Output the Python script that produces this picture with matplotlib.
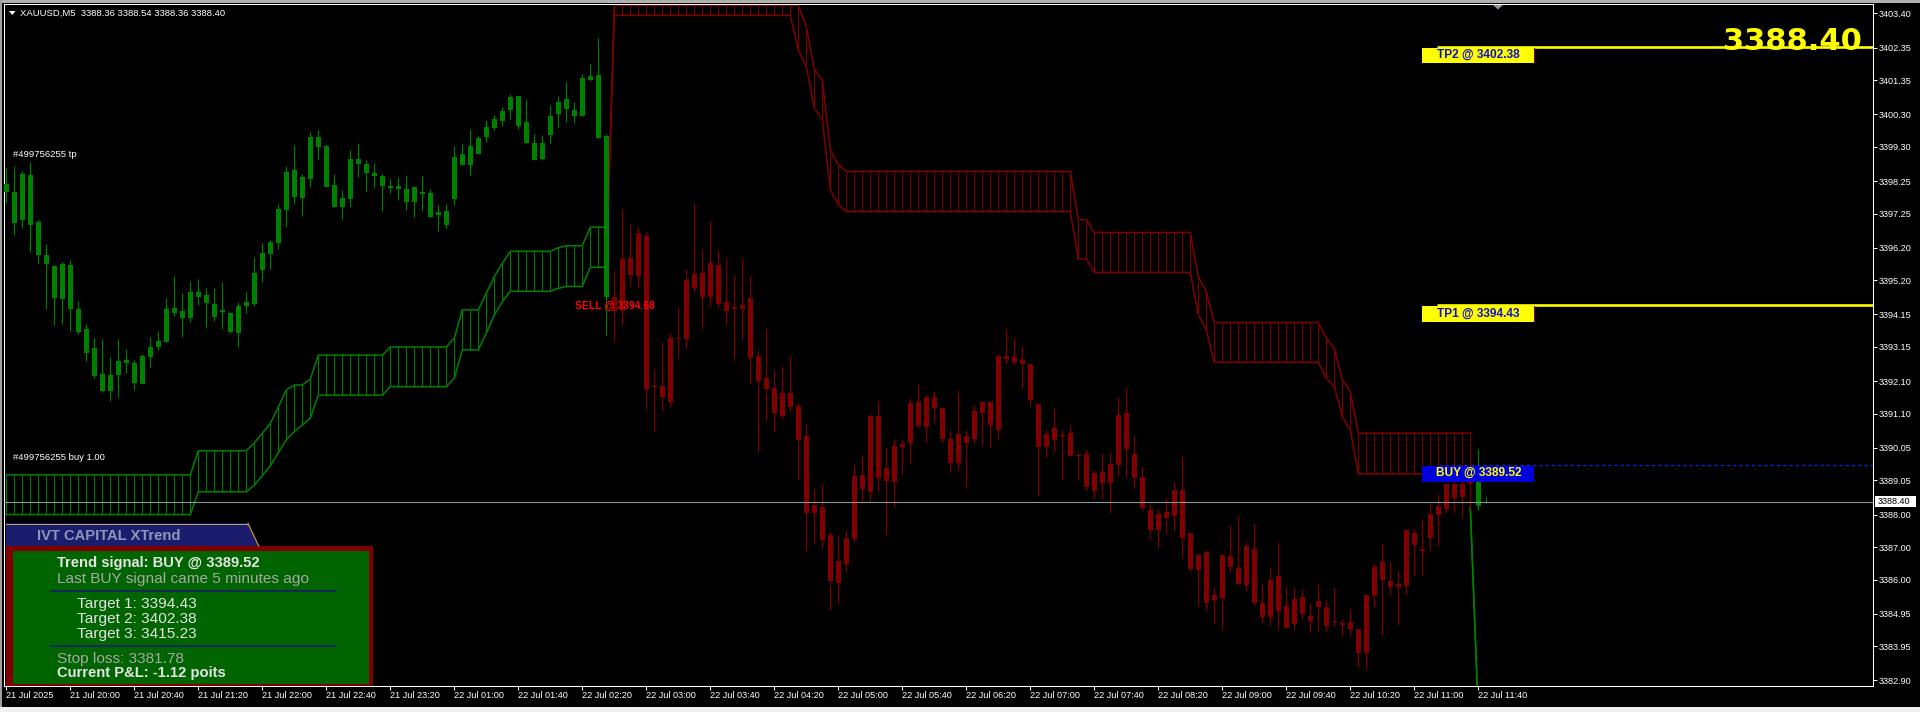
import numpy as np
import matplotlib.pyplot as plt
from matplotlib.patches import Rectangle, Polygon
from matplotlib.transforms import blended_transform_factory

plt.rcParams['font.family'] = ['Liberation Sans', 'DejaVu Sans']

GREEN = '#008000'
RED = '#800000'

symbol = "XAUUSD,M5"

# OHLC of the M5 bars, oldest first (21 Jul 19:20 -> 22 Jul 11:45)
opens = [3398.16, 3397.91, 3397.06, 3398.43, 3396.99, 3395.97, 3395.64, 3394.63, 3395.67, 3394.32,
         3393.70, 3393.11, 3392.31, 3391.80, 3392.29, 3392.75, 3392.65, 3392.02, 3392.85, 3393.16,
         3393.31, 3394.36, 3394.25, 3394.05, 3394.83, 3394.74, 3394.47, 3394.23, 3394.18, 3393.59,
         3394.42, 3394.47, 3395.50, 3396.01, 3396.36, 3397.36, 3398.59, 3397.74, 3398.32, 3399.61,
         3399.34, 3398.13, 3397.46, 3397.70, 3398.93, 3398.78, 3398.50, 3398.41, 3398.10, 3398.01,
         3398.01, 3397.62, 3397.92, 3397.87, 3397.19, 3397.33, 3397.70, 3398.73, 3398.73, 3399.09,
         3399.59, 3399.89, 3400.10, 3400.43, 3400.86, 3400.07, 3399.42, 3398.93, 3399.67, 3400.30,
         3400.77, 3400.44, 3400.26, 3401.35, 3401.51, 3399.64, 3394.69, 3394.27, 3395.89, 3395.32,
         3396.57, 3391.92, 3391.94, 3391.46, 3393.42, 3393.38, 3395.38, 3394.67, 3395.72, 3394.47,
         3394.54, 3394.31, 3394.33, 3394.66, 3392.88, 3392.21, 3391.88, 3391.03, 3391.75, 3391.34,
         3390.40, 3388.05, 3388.23, 3387.37, 3385.90, 3386.49, 3387.25, 3389.21, 3388.70, 3391.02,
         3389.03, 3389.01, 3390.07, 3390.20, 3391.45, 3390.70, 3391.60, 3391.27, 3390.32, 3389.58,
         3390.41, 3390.32, 3391.13, 3391.45, 3390.60, 3392.87, 3392.84, 3392.63, 3392.62, 3391.39,
         3390.08, 3390.30, 3390.45, 3390.50, 3389.80, 3389.86, 3388.72, 3389.32, 3388.97, 3389.52,
         3391.11, 3389.86, 3389.15, 3388.13, 3387.52, 3388.07, 3387.95, 3388.75, 3387.43, 3386.29,
         3386.85, 3385.37, 3385.44, 3386.72, 3386.35, 3385.83, 3386.94, 3385.27, 3384.86, 3386.11,
         3385.18, 3384.63, 3385.46, 3384.88, 3385.17, 3385.15, 3384.70, 3384.66, 3384.70, 3384.47,
         3383.73, 3385.51, 3386.53, 3385.97, 3385.78, 3385.81, 3387.42, 3386.93, 3387.29, 3387.99,
         3388.17, 3388.93, 3388.55, 3388.93, 3389.47, 3388.36]
highs = [3398.64, 3398.71, 3398.56, 3398.83, 3397.05, 3396.31, 3395.67, 3395.77, 3395.82, 3394.57,
         3393.87, 3393.41, 3393.39, 3392.83, 3393.39, 3393.08, 3392.75, 3392.93, 3393.46, 3393.64,
         3394.64, 3395.33, 3394.82, 3395.17, 3395.24, 3394.95, 3394.96, 3395.15, 3394.21, 3394.54,
         3394.84, 3395.90, 3396.36, 3396.44, 3397.55, 3398.72, 3399.36, 3398.47, 3399.76, 3399.82,
         3399.36, 3398.47, 3397.96, 3399.21, 3399.41, 3398.90, 3398.80, 3398.47, 3398.31, 3398.37,
         3398.44, 3398.07, 3398.41, 3398.00, 3397.55, 3397.55, 3399.34, 3399.41, 3399.85, 3399.64,
         3400.13, 3400.28, 3400.52, 3400.92, 3400.86, 3400.77, 3399.70, 3399.67, 3400.58, 3400.86,
         3401.30, 3400.67, 3401.55, 3401.85, 3402.63, 3399.70, 3395.52, 3397.40, 3396.92, 3396.83,
         3396.68, 3392.47, 3393.30, 3393.59, 3394.36, 3395.55, 3397.62, 3396.17, 3397.02, 3396.12,
         3395.88, 3395.35, 3395.86, 3395.37, 3393.07, 3393.73, 3392.45, 3392.56, 3392.88, 3391.43,
         3390.80, 3388.82, 3388.94, 3387.45, 3387.37, 3387.52, 3389.55, 3389.82, 3391.09, 3391.49,
         3390.03, 3390.31, 3390.31, 3391.59, 3392.01, 3391.67, 3391.79, 3391.27, 3390.59, 3391.82,
         3390.59, 3391.36, 3391.45, 3391.45, 3392.92, 3393.70, 3393.43, 3393.19, 3392.62, 3391.41,
         3390.61, 3391.28, 3390.59, 3390.74, 3389.93, 3390.00, 3389.33, 3389.88, 3389.91, 3391.64,
         3391.88, 3390.41, 3389.45, 3388.34, 3388.19, 3388.52, 3388.99, 3389.79, 3387.46, 3386.75,
         3386.90, 3385.76, 3386.80, 3387.67, 3387.95, 3387.15, 3387.74, 3385.86, 3386.36, 3387.16,
         3385.81, 3385.76, 3385.70, 3385.27, 3385.86, 3385.39, 3385.76, 3384.80, 3385.09, 3384.47,
         3385.56, 3386.48, 3387.08, 3386.53, 3386.29, 3387.52, 3387.54, 3387.85, 3388.34, 3388.62,
         3388.93, 3389.23, 3389.44, 3389.60, 3390.00, 3388.54]
lows = [3397.56, 3396.59, 3396.81, 3396.08, 3395.72, 3394.33, 3393.82, 3393.87, 3393.65, 3393.54,
        3392.72, 3392.20, 3391.77, 3391.49, 3391.60, 3392.34, 3391.82, 3392.01, 3392.54, 3393.07,
        3393.31, 3394.10, 3393.46, 3393.92, 3394.44, 3393.72, 3393.95, 3393.69, 3393.59, 3393.16,
        3394.18, 3394.41, 3395.16, 3395.56, 3396.15, 3396.85, 3397.55, 3397.18, 3398.08, 3398.93,
        3398.08, 3397.46, 3397.08, 3397.46, 3398.36, 3397.93, 3398.08, 3397.34, 3397.87, 3397.67,
        3397.36, 3397.13, 3397.34, 3397.13, 3396.70, 3396.82, 3397.52, 3398.73, 3398.42, 3399.09,
        3399.46, 3399.82, 3399.95, 3400.16, 3399.84, 3399.41, 3398.91, 3398.90, 3399.39, 3399.90,
        3400.07, 3400.03, 3400.26, 3401.32, 3399.56, 3393.53, 3393.30, 3393.81, 3395.01, 3394.95,
        3391.23, 3390.57, 3391.17, 3391.26, 3392.81, 3393.10, 3394.84, 3393.70, 3394.38, 3394.36,
        3393.84, 3392.73, 3393.36, 3392.00, 3389.89, 3390.88, 3390.55, 3390.94, 3391.18, 3389.06,
        3386.88, 3387.13, 3386.93, 3385.06, 3385.29, 3386.24, 3387.17, 3388.36, 3388.39, 3388.70,
        3387.37, 3388.24, 3389.26, 3389.57, 3390.68, 3390.24, 3390.85, 3390.20, 3389.31, 3389.36,
        3388.82, 3390.20, 3390.13, 3390.05, 3390.29, 3392.64, 3392.64, 3391.85, 3391.31, 3388.58,
        3389.77, 3389.93, 3389.09, 3389.80, 3389.06, 3388.72, 3388.47, 3388.47, 3388.05, 3389.16,
        3389.16, 3388.82, 3388.13, 3387.24, 3386.95, 3387.40, 3387.52, 3386.67, 3386.27, 3385.18,
        3385.04, 3384.65, 3384.45, 3386.21, 3385.83, 3385.66, 3385.21, 3384.67, 3384.57, 3384.45,
        3384.52, 3384.45, 3384.81, 3384.40, 3384.43, 3384.40, 3384.55, 3384.27, 3384.27, 3383.32,
        3383.29, 3385.17, 3384.30, 3385.53, 3384.60, 3385.53, 3386.12, 3386.14, 3386.89, 3387.04,
        3388.04, 3388.04, 3387.88, 3388.14, 3388.14, 3388.36]
closes = [3397.92, 3396.97, 3398.46, 3396.91, 3395.98, 3395.71, 3394.66, 3395.70, 3394.32, 3393.62,
          3392.97, 3392.26, 3391.79, 3392.28, 3392.71, 3392.66, 3392.05, 3392.87, 3393.15, 3393.33,
          3394.31, 3394.20, 3394.05, 3394.84, 3394.69, 3394.51, 3394.08, 3394.28, 3393.62, 3394.41,
          3394.53, 3395.43, 3396.05, 3396.38, 3397.39, 3398.53, 3397.77, 3398.38, 3399.61, 3399.31,
          3398.08, 3397.46, 3397.72, 3398.93, 3398.78, 3398.51, 3398.39, 3398.11, 3398.04, 3398.10,
          3397.59, 3398.07, 3397.86, 3397.13, 3397.29, 3396.90, 3398.99, 3399.07, 3399.33, 3399.58,
          3399.91, 3400.16, 3400.41, 3400.84, 3399.95, 3399.41, 3398.91, 3399.42, 3400.24, 3400.67,
          3400.47, 3400.26, 3401.43, 3401.49, 3399.56, 3394.70, 3394.27, 3395.86, 3395.35, 3396.66,
          3391.85, 3391.96, 3391.60, 3393.44, 3393.38, 3395.21, 3394.95, 3395.43, 3394.67, 3395.68,
          3394.25, 3394.38, 3394.43, 3392.81, 3392.11, 3391.85, 3391.12, 3391.75, 3391.29, 3390.29,
          3388.05, 3388.29, 3387.23, 3385.96, 3386.57, 3387.27, 3389.18, 3388.79, 3391.02, 3389.13,
          3389.42, 3390.10, 3390.18, 3391.42, 3390.72, 3391.60, 3391.28, 3390.32, 3389.58, 3390.47,
          3390.20, 3391.18, 3391.45, 3390.75, 3392.88, 3392.78, 3392.68, 3392.75, 3391.52, 3390.08,
          3390.47, 3390.66, 3390.41, 3389.80, 3389.83, 3388.84, 3389.27, 3388.97, 3389.55, 3391.06,
          3390.01, 3389.13, 3388.20, 3387.52, 3388.01, 3387.89, 3388.75, 3387.28, 3386.32, 3386.75,
          3385.27, 3385.52, 3386.75, 3386.38, 3385.88, 3387.03, 3385.27, 3384.86, 3385.98, 3385.03,
          3384.52, 3385.40, 3384.95, 3384.74, 3385.34, 3384.57, 3384.74, 3384.62, 3384.47, 3383.73,
          3385.53, 3386.38, 3385.99, 3385.78, 3385.88, 3387.52, 3387.06, 3386.88, 3388.02, 3388.26,
          3388.93, 3388.52, 3388.93, 3389.45, 3388.26, 3388.40]
trend = ["up"] * 76 + ["down"] * 108 + ["up"] * 2

# XTrend channel (bars 0-75 up, 75-183 down, 183-185 new up)
green_top = ([3389.22] * 24 + [3389.96] * 7 + [3390.20, 3390.50, 3390.80, 3391.30, 3391.83]
             + [3391.98, 3391.98, 3392.16] + [3392.90] * 9 + [3393.15] * 8 + [3393.42]
             + [3394.29] * 3 + [3394.80, 3395.31, 3395.72] + [3396.09] * 6 + [3396.20]
             + [3396.26] * 3 + [3396.83] * 3)
green_bot = ([3388.00] * 24 + [3388.70] * 7
             + [3388.90, 3389.20, 3389.50, 3389.90, 3390.30, 3390.55, 3390.75, 3390.96]
             + [3391.67] * 9 + [3391.93] * 8 + [3392.19] + [3393.06] * 3
             + [3393.57, 3394.13, 3394.54] + [3394.86] * 6 + [3394.95] + [3395.01] * 3
             + [3395.60] * 3)
red_top = ([3395.50] + [3403.65] * 24 + [3403.00, 3401.67, 3401.36, 3399.21, 3398.75]
           + [3398.54] * 29 + [3397.06] * 2 + [3396.67] * 13 + [3395.31, 3394.85]
           + [3393.90] * 14 + [3393.42, 3393.11, 3392.14, 3391.78] + [3390.50] * 15)
red_bot = ([3395.50] + [3403.34] * 23 + [3402.28, 3401.77, 3400.49, 3400.13, 3397.98, 3397.52]
           + [3397.31] * 29 + [3395.85] * 2 + [3395.44] * 13 + [3394.14, 3393.68]
           + [3392.68] * 14 + [3392.19, 3391.93, 3391.01, 3390.60] + [3389.25] * 15)
new_top = [3388.24, 3381.90, 3381.90]
new_bot = [3388.24, 3381.78, 3381.78]

sell_price = 3394.68
buy_price = 3389.52
targets = [3394.43, 3402.38, 3415.23]
stop_loss = 3381.78
pnl = -1.12

time_labels = ["21 Jul 2025", "21 Jul 20:00", "21 Jul 20:40", "21 Jul 21:20", "21 Jul 22:00",
               "21 Jul 22:40", "21 Jul 23:20", "22 Jul 01:00", "22 Jul 01:40", "22 Jul 02:20",
               "22 Jul 03:00", "22 Jul 03:40", "22 Jul 04:20", "22 Jul 05:00", "22 Jul 05:40",
               "22 Jul 06:20", "22 Jul 07:00", "22 Jul 07:40", "22 Jul 08:20", "22 Jul 09:00",
               "22 Jul 09:40", "22 Jul 10:20", "22 Jul 11:00", "22 Jul 11:40"]
price_ticks = [3403.40, 3402.35, 3401.35, 3400.30, 3399.30, 3398.25, 3397.25, 3396.20, 3395.20,
               3394.15, 3393.15, 3392.10, 3391.10, 3390.05, 3389.05, 3388.00, 3387.00, 3386.00,
               3384.95, 3383.95, 3382.90]

# ---- layout (pixels) ----
W, H = 1920, 712
L, R, T, B = 4, 1873, 4, 686
X0, XSTEP = 6.3, 8.0
YMIN, YMAX = 3382.73, 3403.69

fig = plt.figure(figsize=(W / 100, H / 100), dpi=100, facecolor='black')
ax = fig.add_axes([L / W, 1 - B / H, (R - L) / W, (B - T) / H])
ax.set_facecolor('black')
ax.set_xlim((L - X0) / XSTEP, (R - X0) / XSTEP)
ax.set_ylim(YMIN, YMAX)


def dy(n):
    return n * (YMAX - YMIN) / (B - T)


def dx(n):
    return n / XSTEP


o = np.array(opens)
h = np.array(highs)
l = np.array(lows)
c = np.array(closes)
bars = np.arange(len(o))
cols = np.where(np.array(trend) == "up", GREEN, RED)

# channel bands with hatching
gi = np.arange(len(green_top))
ri = np.arange(75, 75 + len(red_top))
ni = np.arange(183, 183 + len(new_top))
for idx, top, bot, col in [(gi, green_top, green_bot, GREEN), (ri, red_top, red_bot, RED),
                           (ni, new_top, new_bot, GREEN)]:
    ax.plot(idx, top, color=col, lw=1.1, zorder=2)
    ax.plot(idx, bot, color=col, lw=1.1, zorder=2)
    ax.vlines(idx, bot, top, colors=col, lw=0.7, zorder=2)

# candles
ax.vlines(bars, l, h, colors=cols, lw=0.8, zorder=3)
body_lo = np.minimum(o, c)
body_h = np.maximum(np.abs(c - o), dy(1))
ax.bar(bars, body_h, bottom=body_lo, width=5 / 8, color=cols, linewidth=0, zorder=3)

# current price line
ax.axhline(c[-1], color='#8f959d', lw=0.8, zorder=4)

# signal / target labels
lab_x = 178.85
for name, lvl in [("TP1", targets[0]), ("TP2", targets[1])]:
    ax.hlines(lvl, lab_x, ax.get_xlim()[1], color='#ffff00', lw=1.9, zorder=4)
    ax.add_patch(Rectangle((lab_x - dx(15), lvl - dy(16.5)), dx(112), dy(15.5),
                           facecolor='#ffff00', edgecolor='none', zorder=5))
    ax.add_patch(Rectangle((lab_x + dx(97), lvl - dy(16.5)), dx(1), dy(15.5),
                           facecolor='#800000', edgecolor='none', zorder=5))
    ax.text(lab_x, lvl - dy(11.6), f"{name} @ {lvl:.2f}", color='#1010d0', fontsize=8.6,
            fontweight='bold', ha='left', va='baseline', zorder=6)

ax.hlines(buy_price, lab_x + dx(1.5), ax.get_xlim()[1], color='#1c1cf0', lw=0.9,
          linestyle=(0, (2.5, 2.5)), zorder=4)
ax.add_patch(Rectangle((lab_x - dx(15), buy_price - dy(16.5)), dx(112), dy(15.5),
                       facecolor='#0000dc', edgecolor='none', zorder=5))
ax.text(lab_x - dx(1.5), buy_price - dy(11), f"BUY @ {buy_price:.2f}", color='#ffff00',
        fontsize=8.6, fontweight='bold', ha='left', va='baseline', zorder=6)
ax.text(71.1, sell_price - dy(11.7), f"SELL @ {sell_price:.2f}", color='#ff0000',
        fontsize=7.5, fontweight='bold', ha='left', va='baseline', zorder=6)

# axes styling
for s in ax.spines.values():
    s.set_color('white')
    s.set_linewidth(0.75)
ax.yaxis.tick_right()
ax.set_yticks(price_ticks, labels=[f"{v:.2f}" for v in price_ticks])
ax.set_xticks(np.arange(0, 8 * len(time_labels), 8), labels=time_labels)
for t in ax.get_xticklabels():
    t.set_horizontalalignment('left')
ax.tick_params(axis='y', direction='out', length=2.9, width=0.7, colors='white',
               labelsize=6.6, pad=1.5)
ax.tick_params(axis='x', direction='out', length=2.9, width=0.7, colors='white',
               labelsize=6.6, pad=0.6)

blend = blended_transform_factory(ax.transAxes, ax.transData)
axw = R - L
ax.add_patch(Rectangle((1 + 2 / axw, c[-1] - dy(5.2)), 41 / axw, dy(10.5), transform=blend,
                       facecolor='white', edgecolor='none', clip_on=False, zorder=7))
ax.text(1 + 5 / axw, c[-1], f"{c[-1]:.2f}", transform=blend, color='black', fontsize=6.6,
        ha='left', va='center', clip_on=False, zorder=8)

# ---- overlay in pixel coordinates: window chrome and info panel ----
ov = fig.add_axes([0, 0, 1, 1], zorder=5)
ov.set_xlim(0, W)
ov.set_ylim(H, 0)
ov.axis('off')
ov.patch.set_alpha(0)

ov.add_patch(Rectangle((0, 0), W, 2.5, facecolor='#b0b0b0', edgecolor='none'))
ov.add_patch(Rectangle((0, 0), 2, H, facecolor='#a0a0a0', edgecolor='none'))
ov.add_patch(Rectangle((0, 706.5), W, 6, facecolor='#f0f0f0', edgecolor='none'))

ov.add_patch(Polygon([(9, 11), (15.5, 11), (12.25, 15)], closed=True, facecolor='white',
                     edgecolor='none'))
ov.text(20.4, 15.7, f"{symbol}  {o[-1]:.2f} {h[-1]:.2f} {l[-1]:.2f} {c[-1]:.2f}",
        color='white', fontsize=6.8, ha='left', va='baseline')
ov.add_patch(Polygon([(1493, 5), (1503, 5), (1498, 9.5)], closed=True, facecolor='#8a96a2',
                     edgecolor='none'))

ov.text(12.7, 157.3, "#499756255 tp", color='white', fontsize=6.8, ha='left', va='baseline')
ov.text(12.7, 460, "#499756255 buy 1.00", color='white', fontsize=6.8, ha='left',
        va='baseline')

ov.text(1862, 50, f"{c[-1]:.2f}", color='#ffff00', fontsize=22, fontweight='bold',
        family='DejaVu Sans', ha='right', va='baseline')

# XTrend panel
ov.add_patch(Polygon([(6, 523.3), (248, 523.3), (258.7, 546), (6, 546)], closed=True,
                     facecolor='#1c1c6e', edgecolor='none'))
ov.plot([6, 248], [523.6, 523.6], color='#b8a878', lw=0.7)
ov.plot([248, 258.7], [523.3, 546], color='#d8a030', lw=0.8)
ov.text(36.7, 540, "IVT CAPITAL XTrend", color='#8c98b6', fontsize=10.6, fontweight='bold',
        ha='left', va='baseline')
ov.add_patch(Rectangle((6, 546), 367.3, 140, facecolor='#800000', edgecolor='none'))
ov.add_patch(Rectangle((12.7, 550.7), 356.6, 133.3, facecolor='#006400', edgecolor='none'))
ov.plot([50.7, 336], [590.7, 590.7], color='#1c1c6e', lw=1.2)
ov.plot([50.7, 336], [646, 646], color='#1c1c6e', lw=1.2)

light, grey = '#e4e4e4', '#a8a8a8'
ov.text(56.7, 567.3, f"Trend signal: BUY @ {buy_price:.2f}", color=light, fontsize=10.6,
        fontweight='bold', ha='left', va='baseline')
ov.text(56.7, 583.3, "Last BUY signal came 5 minutes ago", color=grey, fontsize=11.1,
        ha='left', va='baseline')
for k, (tv, yb) in enumerate(zip(targets, [607.7, 622.7, 637.7])):
    ov.text(76.7, yb, f"Target {k + 1}: {tv:.2f}", color=light, fontsize=11.1, ha='left',
            va='baseline')
ov.text(56.7, 662.7, f"Stop loss: {stop_loss:.2f}", color=grey, fontsize=11.1, ha='left',
        va='baseline')
ov.text(56.7, 676.9, f"Current P&L: {pnl:.2f} poits", color=light, fontsize=10.6,
        fontweight='bold', ha='left', va='baseline')

fig.savefig("out.png", dpi=100, facecolor='black')
